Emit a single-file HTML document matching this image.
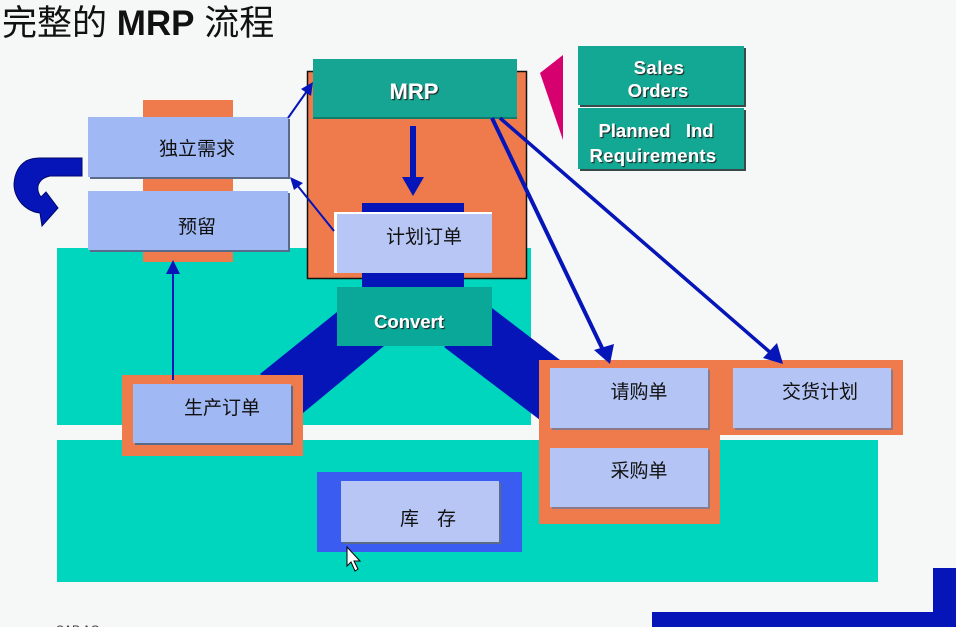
<!DOCTYPE html>
<html><head><meta charset="utf-8"><style>
html,body{margin:0;padding:0;background:#f6f7f7;}
svg{display:block;}
text{font-family:"Liberation Sans","Noto Sans CJK SC",sans-serif;}
</style></head><body>
<svg width="956" height="627" viewBox="0 0 956 627" xmlns="http://www.w3.org/2000/svg">
<defs>
<filter id="ts" x="-10%" y="-10%" width="130%" height="140%"><feDropShadow dx="1.2" dy="1.2" stdDeviation="0.3" flood-color="#222" flood-opacity="0.9"/></filter>
</defs>
<rect width="956" height="627" fill="#f6f7f7"/>
<!-- title -->
<text x="2" y="35" font-size="35" fill="#111">完整的 <tspan font-weight="bold">MRP</tspan> 流程</text>

<!-- teal bands -->
<rect x="57" y="248" width="474" height="177" fill="#00d5be"/>
<rect x="57" y="440" width="821" height="142" fill="#00d5be"/>

<!-- orange backing for left stack -->
<rect x="143" y="100" width="90" height="162" fill="#ef7b4c"/>
<!-- 独立需求 -->
<rect x="90" y="119" width="200" height="60" fill="#5a6b8a"/>
<rect x="88" y="117" width="200" height="60" fill="#a0b8f4"/>
<text x="197" y="155" font-size="19" fill="#111" text-anchor="middle">独立需求</text>
<!-- 预留 -->
<rect x="90" y="193" width="200" height="59" fill="#5a6b8a"/>
<rect x="88" y="191" width="200" height="59" fill="#a0b8f4"/>
<text x="197" y="233" font-size="19" fill="#111" text-anchor="middle">预留</text>

<!-- curved arrow -->
<path d="M82,158 L82,176 L50,176 Q40,178 38,186 Q37,192 41,197 L46,192 L58,208 L42,226 L40,213 Q30,212 22,204 Q14,195 14,184 Q15,168 26,161 Q32,158 40,158 Z" fill="#0515b8" stroke="#00086a" stroke-width="1"/>

<!-- blue trapezoid bands -->
<polygon points="337,312 384,346 303,413 260,374" fill="#0515b8"/>
<polygon points="492,308 560,360 540,420 444,347" fill="#0515b8"/>

<!-- MRP orange outer -->
<rect x="307.5" y="71.5" width="219" height="207" fill="#ef7b4c" stroke="#111" stroke-width="1.5"/>
<!-- MRP teal -->
<rect x="313" y="59" width="204" height="59" fill="#16a592"/>
<rect x="313" y="117" width="204" height="2" fill="#0e7d6e"/>
<text x="414" y="99" font-size="22" font-weight="bold" fill="#fff" text-anchor="middle" filter="url(#ts)">MRP</text>

<!-- down arrow -->
<rect x="410" y="126" width="6" height="54" fill="#0515b8"/>
<polygon points="402,177 424,177 413,196" fill="#0515b8"/>

<!-- blue bars -->
<rect x="362" y="203" width="102" height="10" fill="#0515b8"/>
<rect x="362" y="272" width="102" height="15" fill="#0515b8"/>
<!-- 计划订单 -->
<rect x="334" y="212" width="158" height="61" fill="#fff"/>
<rect x="337" y="214" width="155" height="59" fill="#b8c6f6"/>
<text x="424" y="243" font-size="19" fill="#111" text-anchor="middle">计划订单</text>

<!-- Convert -->
<rect x="337" y="287" width="155" height="59" fill="#0aa898"/>
<text x="409" y="328" font-size="18.5" font-weight="bold" fill="#fff" text-anchor="middle" filter="url(#ts)">Convert</text>

<!-- 生产订单 -->
<rect x="122" y="375" width="181" height="81" fill="#ef7b4c"/>
<rect x="135" y="386" width="158" height="59" fill="#5a6b8a"/>
<rect x="133" y="384" width="158" height="59" fill="#a0b8f4"/>
<text x="222" y="414" font-size="19" fill="#111" text-anchor="middle">生产订单</text>
<!-- arrow up -->
<rect x="172" y="272" width="2" height="108" fill="#0515b8"/>
<polygon points="166,274 180,274 173,260" fill="#0515b8"/>

<!-- 库存 -->
<rect x="317" y="472" width="205" height="80" fill="#3a5cf0"/>
<rect x="343" y="483" width="158" height="61" fill="#5a6b8a"/>
<rect x="341" y="481" width="158" height="61" fill="#b8c6f6"/>
<text x="400" y="525" font-size="19" fill="#111">库</text>
<text x="437" y="525" font-size="19" fill="#111">存</text>

<!-- right orange L -->
<rect x="539" y="360" width="364" height="75" fill="#ef7b4c"/>
<rect x="539" y="360" width="181" height="164" fill="#ef7b4c"/>
<rect x="552" y="370" width="158" height="60" fill="#8a7a8a"/>
<rect x="550" y="368" width="158" height="60" fill="#b4c4f4"/>
<text x="639" y="398" font-size="19" fill="#111" text-anchor="middle">请购单</text>
<rect x="735" y="370" width="158" height="60" fill="#8a7a8a"/>
<rect x="733" y="368" width="158" height="60" fill="#b4c4f4"/>
<text x="820" y="398" font-size="19" fill="#111" text-anchor="middle">交货计划</text>
<rect x="552" y="450" width="158" height="59" fill="#8a7a8a"/>
<rect x="550" y="448" width="158" height="59" fill="#b4c4f4"/>
<text x="639" y="477" font-size="19" fill="#111" text-anchor="middle">采购单</text>

<!-- long arrows from MRP -->
<line x1="492" y1="118" x2="603" y2="350" stroke="#0515b8" stroke-width="4"/>
<polygon points="594,350 614,344 610,364" fill="#0515b8"/>
<line x1="500" y1="118" x2="772" y2="354" stroke="#0515b8" stroke-width="3.5"/>
<polygon points="763,358 777,343 783,364" fill="#0515b8"/>

<!-- thin arrows to left boxes -->
<line x1="288" y1="118" x2="307" y2="91" stroke="#0515b8" stroke-width="2"/>
<polygon points="301,89 313,82 311,96" fill="#0515b8"/>
<line x1="334" y1="231" x2="297" y2="185" stroke="#0515b8" stroke-width="2"/>
<polygon points="290,177 303,183 294,190" fill="#0515b8"/>

<!-- magenta triangle -->
<polygon points="540,73 563,55 563,140" fill="#d6006f"/>

<!-- Sales Orders / Planned -->
<rect x="580" y="48" width="166" height="59" fill="#3a4a4a"/>
<rect x="578" y="46" width="166" height="59" fill="#12a893"/>
<text x="659" y="74" font-size="18.5" font-weight="bold" fill="#fff" text-anchor="middle" filter="url(#ts)" letter-spacing="0.5">Sales</text>
<text x="658" y="97" font-size="18.5" font-weight="bold" fill="#fff" text-anchor="middle" filter="url(#ts)">Orders</text>
<rect x="580" y="110" width="166" height="61" fill="#3a4a4a"/>
<rect x="578" y="108" width="166" height="61" fill="#12a893"/>
<text x="656" y="137" font-size="18.5" font-weight="bold" fill="#fff" text-anchor="middle" filter="url(#ts)" xml:space="preserve">Planned   Ind</text>
<text x="653" y="162" font-size="18.5" font-weight="bold" fill="#fff" text-anchor="middle" filter="url(#ts)" letter-spacing="0.3">Requirements</text>

<!-- bottom-right corner bars -->
<rect x="652" y="612" width="304" height="15" fill="#0515b8"/>
<rect x="933" y="568" width="23" height="59" fill="#0515b8"/>

<!-- cursor -->
<path d="M347,547 L347,566 L351,562 L355,571 L358,569 L354,561 L360,561 Z" fill="#fff" stroke="#000" stroke-width="1"/>

<!-- SAP AG fragment -->
<text x="56" y="634" font-size="12" fill="#333">SAP AG</text>
</svg>
</body></html>
